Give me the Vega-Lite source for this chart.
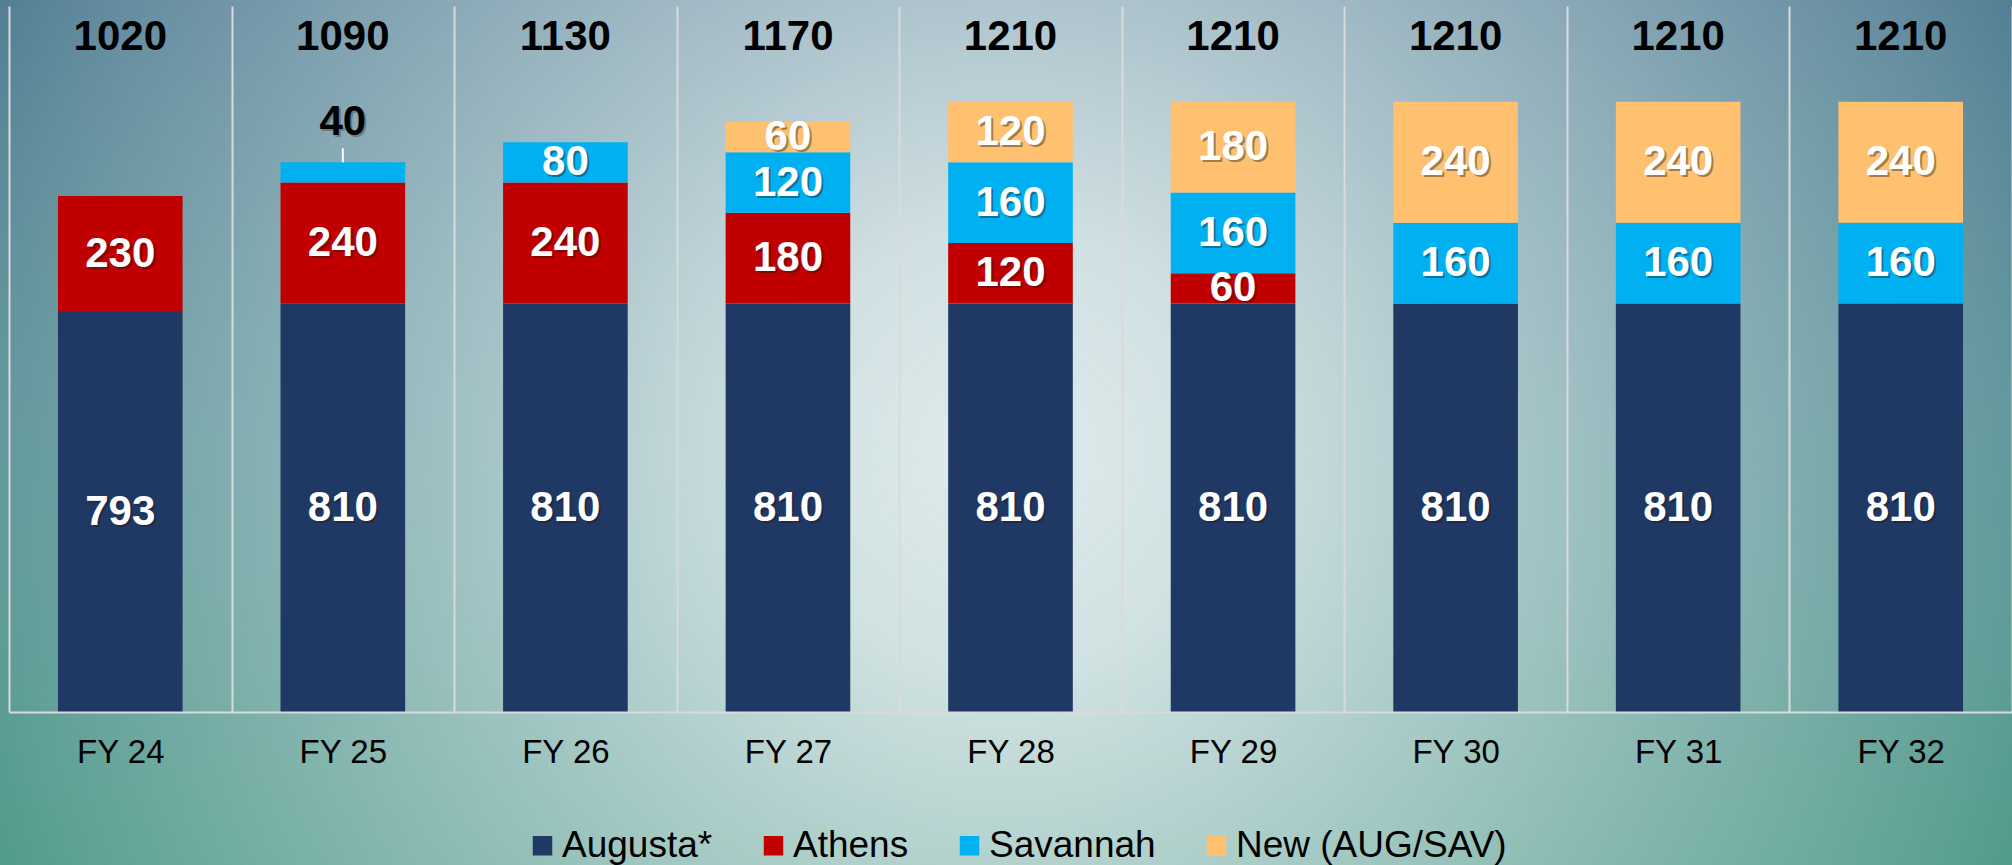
{
  "$schema": "https://vega.github.io/schema/vega-lite/v6.json",
  "width": 2003,
  "height": 706,
  "autosize": "none",
  "padding": {"left": 9, "top": 6, "right": 0, "bottom": 153},
  "background": "#7aa6ae",
  "config": {"view": {"stroke": null}, "font": "Liberation Sans"},
  "datasets": {
    "seg": [
      {"fy": "FY 24", "region": "Augusta*", "v": 793, "rank": 1},
      {"fy": "FY 24", "region": "Athens", "v": 230, "rank": 2},
      {"fy": "FY 25", "region": "Augusta*", "v": 810, "rank": 1},
      {"fy": "FY 25", "region": "Athens", "v": 240, "rank": 2},
      {"fy": "FY 25", "region": "Savannah", "v": 40, "rank": 3},
      {"fy": "FY 26", "region": "Augusta*", "v": 810, "rank": 1},
      {"fy": "FY 26", "region": "Athens", "v": 240, "rank": 2},
      {"fy": "FY 26", "region": "Savannah", "v": 80, "rank": 3},
      {"fy": "FY 27", "region": "Augusta*", "v": 810, "rank": 1},
      {"fy": "FY 27", "region": "Athens", "v": 180, "rank": 2},
      {"fy": "FY 27", "region": "Savannah", "v": 120, "rank": 3},
      {"fy": "FY 27", "region": "New (AUG/SAV)", "v": 60, "rank": 4},
      {"fy": "FY 28", "region": "Augusta*", "v": 810, "rank": 1},
      {"fy": "FY 28", "region": "Athens", "v": 120, "rank": 2},
      {"fy": "FY 28", "region": "Savannah", "v": 160, "rank": 3},
      {"fy": "FY 28", "region": "New (AUG/SAV)", "v": 120, "rank": 4},
      {"fy": "FY 29", "region": "Augusta*", "v": 810, "rank": 1},
      {"fy": "FY 29", "region": "Athens", "v": 60, "rank": 2},
      {"fy": "FY 29", "region": "Savannah", "v": 160, "rank": 3},
      {"fy": "FY 29", "region": "New (AUG/SAV)", "v": 180, "rank": 4},
      {"fy": "FY 30", "region": "Augusta*", "v": 810, "rank": 1},
      {"fy": "FY 30", "region": "Savannah", "v": 160, "rank": 3},
      {"fy": "FY 30", "region": "New (AUG/SAV)", "v": 240, "rank": 4},
      {"fy": "FY 31", "region": "Augusta*", "v": 810, "rank": 1},
      {"fy": "FY 31", "region": "Savannah", "v": 160, "rank": 3},
      {"fy": "FY 31", "region": "New (AUG/SAV)", "v": 240, "rank": 4},
      {"fy": "FY 32", "region": "Augusta*", "v": 810, "rank": 1},
      {"fy": "FY 32", "region": "Savannah", "v": 160, "rank": 3},
      {"fy": "FY 32", "region": "New (AUG/SAV)", "v": 240, "rank": 4}
    ],
    "tot": [
      {"fy": "FY 24", "total": 1020},
      {"fy": "FY 25", "total": 1090},
      {"fy": "FY 26", "total": 1130},
      {"fy": "FY 27", "total": 1170},
      {"fy": "FY 28", "total": 1210},
      {"fy": "FY 29", "total": 1210},
      {"fy": "FY 30", "total": 1210},
      {"fy": "FY 31", "total": 1210},
      {"fy": "FY 32", "total": 1210}
    ]
  },
  "layer": [
    {
      "data": {"values": [{}]},
      "mark": {
        "type": "rect",
        "x": -9, "x2": 2003, "y": -6, "y2": 859,
        "fill": {"gradient": "linear", "x1": 0, "y1": 0, "x2": 0, "y2": 1,
          "stops": [{"offset": 0, "color": "#4c7990"}, {"offset": 0.5, "color": "#4c8a8f"}, {"offset": 1, "color": "#479684"}]}
      },
      "encoding": {}
    },
    {
      "data": {"values": [{}]},
      "mark": {
        "type": "rect",
        "x": -9, "x2": 2003, "y": -6, "y2": 859,
        "fill": {"gradient": "radial", "x1": 0.5, "y1": 0.51, "r1": 0, "x2": 0.5, "y2": 0.51, "r2": 0.56,
          "stops": [
            {"offset": 0, "color": "rgba(232,240,241,0.95)"},
            {"offset": 0.2, "color": "rgba(230,239,240,0.86)"},
            {"offset": 0.39, "color": "rgba(228,237,239,0.66)"},
            {"offset": 0.63, "color": "rgba(225,235,237,0.42)"},
            {"offset": 0.89, "color": "rgba(220,232,234,0.16)"},
            {"offset": 1, "color": "rgba(220,232,234,0.02)"}
          ]}
      },
      "encoding": {}
    },
    {
      "data": {"name": "seg"},
      "mark": {"type": "bar", "width": {"band": 0.56}},
      "encoding": {
        "x": {
          "field": "fy", "type": "nominal",
          "scale": {"paddingInner": 0, "paddingOuter": 0},
          "axis": {
            "title": null, "labelAngle": 0, "labelFontSize": 33, "labelColor": "#000000",
            "labelFont": "Liberation Sans", "ticks": false, "tickSize": 0, "labelPadding": 24,
            "domainColor": "#dadada", "domainWidth": 2, "grid": true, "gridColor": "#dadada",
            "gridWidth": 2, "tickBand": "extent", "zindex": 1
          }
        },
        "y": {
          "field": "v", "type": "quantitative", "stack": "zero",
          "scale": {"domain": [0, 1400], "nice": false}, "axis": null
        },
        "color": {
          "field": "region", "type": "nominal",
          "scale": {
            "domain": ["Augusta*", "Athens", "Savannah", "New (AUG/SAV)"],
            "range": ["#203864", "#c00000", "#00b0f0", "#ffc06f"]
          },
          "legend": {
            "orient": "none", "legendX": 515, "legendY": 821, "direction": "horizontal",
            "title": null, "symbolType": "square", "symbolSize": 380, "symbolStrokeWidth": 0,
            "labelFontSize": 37, "labelFont": "Liberation Sans", "labelColor": "#000000",
            "columnPadding": 42, "labelOffset": 1, "padding": 0, "labelLimit": 500
          }
        },
        "order": {"field": "rank", "type": "quantitative"}
      }
    },
    {
      "data": {"name": "seg"},
      "transform": [{"filter": "datum.v >= 50"}],
      "mark": {"type": "text", "font": "Liberation Sans", "fontWeight": "bold", "fontSize": 42,
        "baseline": "middle", "fill": "#1a1a1a", "opacity": 0.4, "dx": 2, "dy": 2},
      "encoding": {
        "x": {"field": "fy", "type": "nominal"},
        "y": {"field": "v", "type": "quantitative", "stack": "zero", "bandPosition": 0.5},
        "order": {"field": "rank", "type": "quantitative"},
        "text": {"field": "v", "type": "quantitative"}
      }
    },
    {
      "data": {"name": "seg"},
      "transform": [{"filter": "datum.v >= 50"}],
      "mark": {"type": "text", "font": "Liberation Sans", "fontWeight": "bold", "fontSize": 42,
        "baseline": "middle", "fill": "#ffffff"},
      "encoding": {
        "x": {"field": "fy", "type": "nominal"},
        "y": {"field": "v", "type": "quantitative", "stack": "zero", "bandPosition": 0.5},
        "order": {"field": "rank", "type": "quantitative"},
        "text": {"field": "v", "type": "quantitative"}
      }
    },
    {
      "data": {"name": "seg"},
      "transform": [
        {"stack": "v", "groupby": ["fy"], "sort": [{"field": "rank", "order": "ascending"}], "as": ["s0", "s1"]},
        {"filter": "datum.v < 50"}
      ],
      "mark": {"type": "rule", "color": "#ffffff", "strokeWidth": 2, "y2Offset": -14},
      "encoding": {
        "x": {"field": "fy", "type": "nominal"},
        "y": {"field": "s1", "type": "quantitative"},
        "y2": {"field": "s1"}
      }
    },
    {
      "data": {"name": "seg"},
      "transform": [
        {"stack": "v", "groupby": ["fy"], "sort": [{"field": "rank", "order": "ascending"}], "as": ["s0", "s1"]},
        {"filter": "datum.v < 50"}
      ],
      "mark": {"type": "text", "font": "Liberation Sans", "fontWeight": "bold", "fontSize": 42,
        "baseline": "alphabetic", "fill": "#555555", "opacity": 0.5, "dx": 2, "dy": -25},
      "encoding": {
        "x": {"field": "fy", "type": "nominal"},
        "y": {"field": "s1", "type": "quantitative"},
        "text": {"field": "v", "type": "quantitative"}
      }
    },
    {
      "data": {"name": "seg"},
      "transform": [
        {"stack": "v", "groupby": ["fy"], "sort": [{"field": "rank", "order": "ascending"}], "as": ["s0", "s1"]},
        {"filter": "datum.v < 50"}
      ],
      "mark": {"type": "text", "font": "Liberation Sans", "fontWeight": "bold", "fontSize": 42,
        "baseline": "alphabetic", "fill": "#000000", "dy": -27},
      "encoding": {
        "x": {"field": "fy", "type": "nominal"},
        "y": {"field": "s1", "type": "quantitative"},
        "text": {"field": "v", "type": "quantitative"}
      }
    },
    {
      "data": {"name": "tot"},
      "mark": {"type": "text", "font": "Liberation Sans", "fontWeight": "bold", "fontSize": 42,
        "baseline": "alphabetic", "fill": "#000000"},
      "encoding": {
        "x": {"field": "fy", "type": "nominal"},
        "y": {"datum": 1313, "type": "quantitative"},
        "text": {"field": "total", "type": "quantitative"}
      }
    }
  ]
}
